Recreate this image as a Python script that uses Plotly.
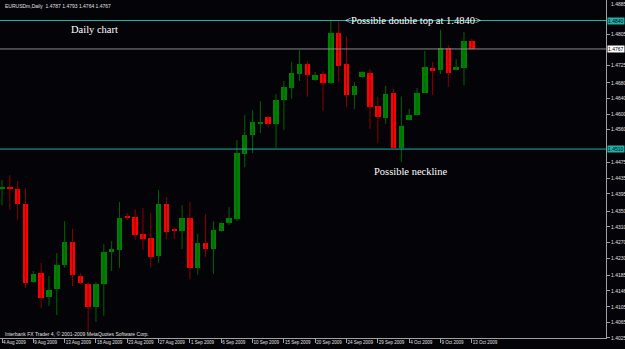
import plotly.graph_objects as go

# ---- data (daily EURUSD, 4 Aug 2009 - 13 Oct 2009, Sunday bars included) ----
opens = [1.4407, 1.4413, 1.4407, 1.4369, 1.4169, 1.4192, 1.4130, 1.4151, 1.4212, 1.4271,
         1.4184, 1.4164, 1.4105, 1.4164, 1.4246, 1.4251, 1.4338, 1.4336, 1.4292, 1.4282,
         1.4235, 1.4369, 1.4305, 1.4300, 1.4333, 1.4205, 1.4269, 1.4253, 1.4300, 1.4320,
         1.4330, 1.4497, 1.4546, 1.4577, 1.4592, 1.4574, 1.4636, 1.4667, 1.4703, 1.4728,
         1.4687, 1.4703, 1.4680, 1.4808, 1.4728, 1.4649, 1.4695, 1.4705, 1.4621, 1.4590,
         1.4654, 1.4513, 1.4585, 1.4597, 1.4654, 1.4718, 1.4713, 1.4769, 1.4713, 1.4718,
         1.4787]
highs = [1.4431, 1.4443, 1.4428, 1.4410, 1.4197, 1.4218, 1.4184, 1.4243, 1.4325, 1.4305,
         1.4192, 1.4169, 1.4169, 1.4266, 1.4274, 1.4374, 1.4346, 1.4356, 1.4359, 1.4346,
         1.4405, 1.4387, 1.4307, 1.4366, 1.4374, 1.4292, 1.4343, 1.4325, 1.4322, 1.4361,
         1.4533, 1.4597, 1.4610, 1.4633, 1.4595, 1.4651, 1.4685, 1.4734, 1.4764, 1.4736,
         1.4708, 1.4710, 1.4841, 1.4841, 1.4800, 1.4682, 1.4710, 1.4716, 1.4644, 1.4672,
         1.4664, 1.4644, 1.4613, 1.4667, 1.4762, 1.4734, 1.4816, 1.4777, 1.4741, 1.4811,
         1.4793]
lows = [1.4366, 1.4354, 1.4328, 1.4153, 1.4166, 1.4102, 1.4107, 1.4084, 1.4205, 1.4158,
        1.4164, 1.4040, 1.4066, 1.4081, 1.4197, 1.4205, 1.4328, 1.4277, 1.4251, 1.4205,
        1.4218, 1.4279, 1.4279, 1.4253, 1.4176, 1.4187, 1.4233, 1.4189, 1.4298, 1.4315,
        1.4325, 1.4464, 1.4500, 1.4551, 1.4567, 1.4513, 1.4559, 1.4639, 1.4685, 1.4644,
        1.4685, 1.4608, 1.4677, 1.4682, 1.4618, 1.4613, 1.4692, 1.4562, 1.4526, 1.4574,
        1.4513, 1.4477, 1.4585, 1.4597, 1.4654, 1.4649, 1.4703, 1.4669, 1.4713, 1.4674,
        1.4764]
closes = [1.4413, 1.4407, 1.4369, 1.4166, 1.4189, 1.4128, 1.4148, 1.4212, 1.4271, 1.4187,
          1.4166, 1.4105, 1.4164, 1.4246, 1.4253, 1.4333, 1.4336, 1.4289, 1.4279, 1.4233,
          1.4369, 1.4297, 1.4300, 1.4333, 1.4205, 1.4269, 1.4253, 1.4302, 1.4320, 1.4333,
          1.4500, 1.4546, 1.4579, 1.4579, 1.4574, 1.4636, 1.4669, 1.4705, 1.4728, 1.4700,
          1.4700, 1.4680, 1.4808, 1.4723, 1.4649, 1.4672, 1.4708, 1.4618, 1.4592, 1.4651,
          1.4513, 1.4569, 1.4597, 1.4654, 1.4721, 1.4710, 1.4769, 1.4705, 1.4721, 1.4787,
          1.4767]

date_tick_index = [0, 4, 8, 12, 16, 20, 24, 28, 32, 36, 40, 44, 48, 52, 56, 60]
date_tick_labels = ["4 Aug 2009", "9 Aug 2009", "13 Aug 2009", "18 Aug 2009", "23 Aug 2009",
                    "27 Aug 2009", "1 Sep 2009", "6 Sep 2009", "10 Sep 2009", "15 Sep 2009",
                    "20 Sep 2009", "24 Sep 2009", "29 Sep 2009", "4 Oct 2009", "9 Oct 2009",
                    "13 Oct 2009"]
price_tick_labels = ["1.4885", "1.4805", "1.4725", "1.4680", "1.4640", "1.4600", "1.4560",
                     "1.4475", "1.4435", "1.4395", "1.4350", "1.4310", "1.4270", "1.4230",
                     "1.4185", "1.4146", "1.4105", "1.4065", "1.4025"]
double_top_level = 1.4840
neckline_level = 1.4510
bid_level = 1.4767
header_text = "EURUSDm,Daily  1.4787 1.4793 1.4764 1.4767"
copyright_text = "Interbank FX Trader 4, \u00a9 2001-2009 MetaQuotes Software Corp."

# ---- styling ----
BG = "#040307"
UP_BODY, DN_BODY = "#008000", "#ff0000"
UP_WICK, DN_WICK = "#006400", "#8b0000"
TEAL = "#20b2aa"
FRAME = "#a0a0a0"
W, H = 625, 349

n = len(opens)
idx = list(range(n))
up = [c >= o for o, c in zip(opens, closes)]

fig = go.Figure()

# wicks
for is_up, col in ((True, UP_WICK), (False, DN_WICK)):
    xs, ys = [], []
    for i in idx:
        if up[i] == is_up:
            xs += [i, i, None]
            ys += [lows[i], highs[i], None]
    fig.add_trace(go.Scatter(x=xs, y=ys, mode="lines", line=dict(color=col, width=1),
                             hoverinfo="skip", showlegend=False))

# bodies
min_h = 0.0003
base = [min(o, c) for o, c in zip(opens, closes)]
height = [max(abs(c - o), min_h) for o, c in zip(opens, closes)]
base = [b - (min_h - abs(c - o)) / 2 if abs(c - o) < min_h else b
        for b, o, c in zip(base, opens, closes)]
fig.add_trace(go.Bar(x=idx, y=height, base=base, width=0.7,
                     marker=dict(color=[UP_BODY if u else DN_BODY for u in up], line=dict(width=0)),
                     showlegend=False, hoverinfo="skip"))

# horizontal level lines
for lvl, col in ((double_top_level, TEAL), (neckline_level, TEAL), (bid_level, "#8a8a8a")):
    fig.add_shape(type="line", xref="paper", yref="y", x0=0, x1=606 / W, y0=lvl, y1=lvl,
                  line=dict(color=col, width=1), layer="above")

# price boxes on the axis
for lvl, bg in ((double_top_level, TEAL), (neckline_level, TEAL), (bid_level, "#ffffff")):
    fig.add_annotation(xref="paper", yref="y", x=607 / W, y=lvl, xanchor="left", yanchor="middle",
                       text=f"{lvl:.4f}", showarrow=False, bgcolor=bg, borderpad=0,
                       font=dict(family="Liberation Sans", size=5, color="#000000"))

tick_font = dict(family="Liberation Sans", size=5, color="#e0e0e0")
# top-most price label sits on the very edge of the page; draw it explicitly inside the page
fig.add_annotation(xref="paper", yref="paper", x=609.5 / W, y=1.0,
                   xanchor="left", yanchor="top", text=price_tick_labels[0],
                   showarrow=False, font=tick_font, borderpad=0)

serif = dict(family="Liberation Serif", size=10.5, color="#ffffff")
fig.add_annotation(xref="paper", yref="paper", x=94 / W, y=1 - 29 / H, text="Daily chart",
                   showarrow=False, font=serif, xanchor="center", yanchor="middle")
fig.add_annotation(xref="paper", yref="paper", x=413 / W, y=1 - 21 / H,
                   text="&lt;Possible double top at 1.4840&gt;",
                   showarrow=False, font=serif, xanchor="center", yanchor="middle")
fig.add_annotation(xref="paper", yref="paper", x=410.5 / W, y=1 - 171 / H, text="Possible neckline",
                   showarrow=False, font=serif, xanchor="center", yanchor="middle")

small = dict(family="Liberation Sans", size=5, color="#e0e0e0")
fig.add_annotation(xref="paper", yref="paper", x=3 / W, y=1 - 6 / H, text=header_text,
                   showarrow=False, font=small, xanchor="left", yanchor="middle")
fig.add_annotation(xref="paper", yref="paper", x=3 / W, y=1 - 334 / H, text=copyright_text,
                   showarrow=False, font=small, xanchor="left", yanchor="middle")

px_per_bar = 7.83
x0 = -2 / px_per_bar
x1 = x0 + 606 / px_per_bar
y_top = 1.4885 + 3 / 3895
y_bot = 1.4885 - 335 / 3895

fig.update_layout(
    width=W, height=H, margin=dict(l=0, r=0, t=0, b=0, autoexpand=False),
    paper_bgcolor=BG, plot_bgcolor=BG, bargap=0, barmode="overlay",
    xaxis=dict(domain=[0, 606 / W], range=[x0, x1], showgrid=False, zeroline=False,
               tickmode="array", tickvals=date_tick_index, ticktext=date_tick_labels,
               ticks="outside", ticklen=4, tickcolor=FRAME, ticklabelposition="outside right",
               tickangle=0, automargin=False, ticklabeloverflow="allow",
               tickfont=dict(family="Liberation Sans", size=4.5, color="#e0e0e0"),
               showline=True, linecolor=FRAME, linewidth=1, mirror=True),
    yaxis=dict(domain=[11 / H, 1.0], range=[y_bot, y_top], side="right", showgrid=False,
               zeroline=False, tickmode="array", automargin=False, ticklabeloverflow="allow",
               tickvals=[float(t) for t in price_tick_labels[1:]], ticktext=price_tick_labels[1:],
               ticks="outside", ticklen=3, tickcolor=FRAME, tickfont=tick_font,
               showline=True, linecolor=FRAME, linewidth=1, mirror=True),
)

fig.write_html("out.html")
